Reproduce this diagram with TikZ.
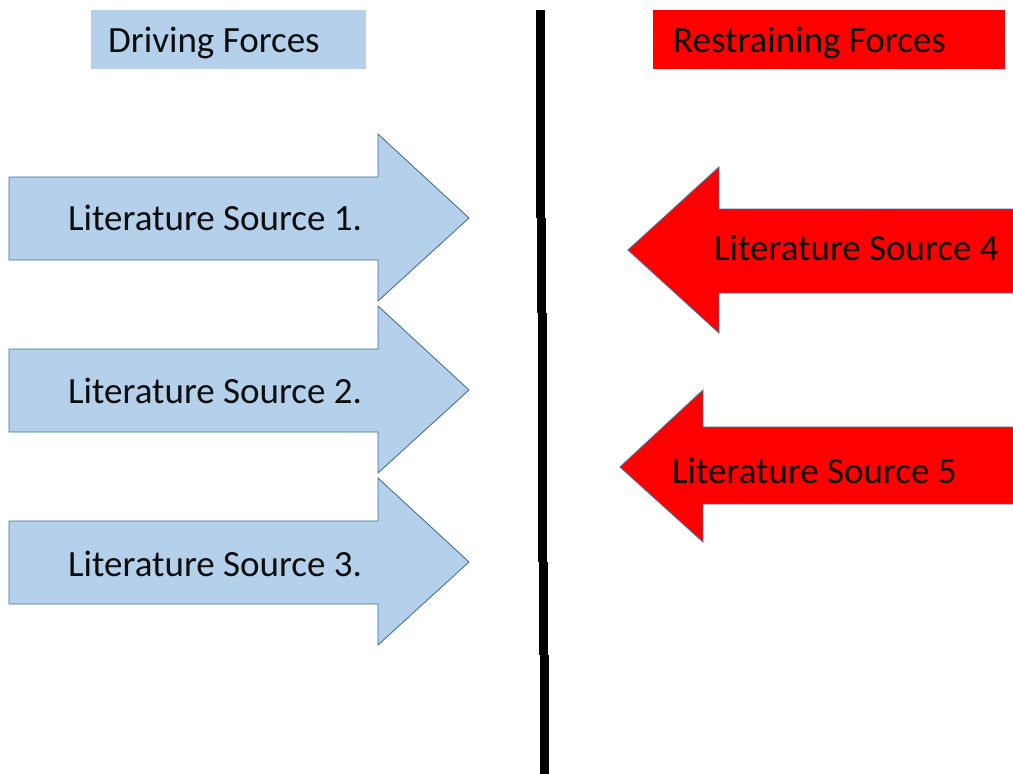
\documentclass[tikz,border=0pt]{standalone}
\usepackage{fontspec}
\setmainfont{Carlito}
\definecolor{driveblue}{HTML}{B4D0EB}
\definecolor{edgeblue}{HTML}{41719C}
\definecolor{restred}{HTML}{FF0000}
\definecolor{inktext}{HTML}{0D0D0D}
\tikzset{
  label text/.style={inner sep=0pt, anchor=base west, text=inktext,
    font=\fontsize{37}{44}\selectfont},
  driving/.style={fill=driveblue, draw=edgeblue, line width=0.9pt, line join=miter},
  restraining/.style={fill=restred, draw=edgeblue, line width=0.9pt, line join=miter},
  divider/.style={fill=black, draw=none}
}
\begin{document}
\begin{tikzpicture}[x=1pt,y=-1pt]
\clip (0,0) rectangle (1013,774);
\fill[white] (0,0) rectangle (1013,774);

% headers
\fill[driveblue] (91,10) rectangle (366,69);
\node[label text] (hdrive) at (108,52) {Driving Forces};
\fill[restred] (653,10) rectangle (1005,69);
\node[label text] (hrestrain) at (673,52) {Restraining Forces};

% dividing line, drawn by hand in short strokes
\fill[divider] (536,10) rectangle (545,218);
\fill[divider] (537,218) rectangle (546,313);
\fill[divider] (538,313) rectangle (547,562);
\fill[divider] (539,562) rectangle (548,655);
\fill[divider] (540,655) rectangle (549,774);

% driving force arrows (pointing right)
\foreach \dy [count=\i] in {0,172,344} {
  \draw[driving] (9,177+\dy) -- (378,177+\dy) -- (378,134+\dy) -- (469,218+\dy)
     -- (378,301+\dy) -- (378,260+\dy) -- (9,260+\dy) -- cycle;
}
\node[label text] (src1) at (68,230) {Literature Source 1.};
\node[label text] (src2) at (68,403) {Literature Source 2.};
\node[label text] (src3) at (68,576) {Literature Source 3.};

% restraining force arrows (pointing left)
\draw[restraining] (1030,209) -- (719,209) -- (719,167) -- (628,250)
   -- (719,333) -- (719,293) -- (1030,293) -- cycle;
\node[label text] (src4) at (714,260) {Literature Source 4};

\draw[restraining] (1030,427) -- (703,427) -- (703,390) -- (620,467)
   -- (703,542) -- (703,504) -- (1030,504) -- cycle;
\node[label text] (src5) at (672,483) {Literature Source 5};
\end{tikzpicture}
\end{document}
